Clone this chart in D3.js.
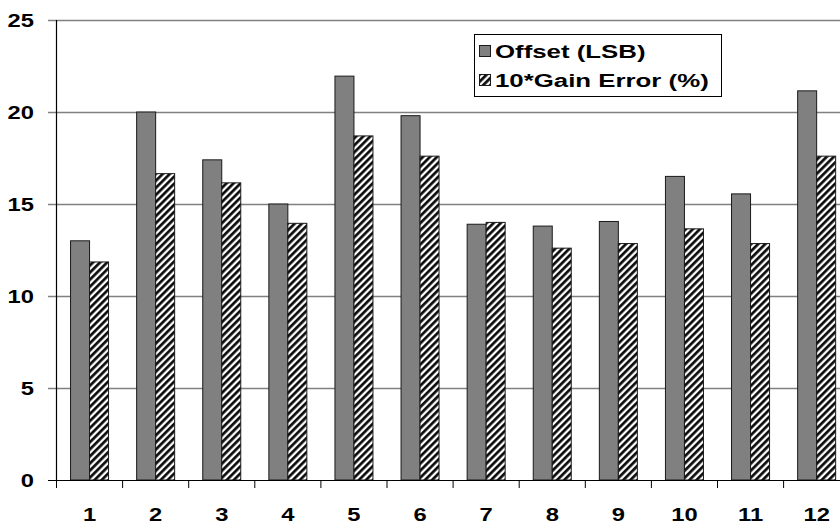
<!DOCTYPE html>
<html>
<head>
<meta charset="utf-8">
<script src="https://cdn.jsdelivr.net/npm/d3@7/dist/d3.min.js"></script>
<style>
  html, body { margin: 0; padding: 0; background: #fff; }
  svg { display: block; }
  text { font-family: Arial, "Liberation Sans", sans-serif; font-weight: bold; fill: #000; }
</style>
</head>
<body>
<svg id="chart" width="840" height="525"></svg>
<script>
const categories = ["1","2","3","4","5","6","7","8","9","10","11","12"];
const seriesNames = ["Offset (LSB)", "10*Gain Error (%)"];
const offsetLSB = [13.0, 20.0, 17.4, 15.0, 21.95, 19.8, 13.9, 13.8, 14.05, 16.5, 15.55, 21.15];
const gainError10 = [11.85, 16.65, 16.15, 13.95, 18.7, 17.6, 14.0, 12.6, 12.85, 13.65, 12.85, 17.6];
const yTicks = [0, 5, 10, 15, 20, 25];

(function () {
const svg = d3.select("#chart");
const W = 840;
const plotLeft = 56.5, plotTop = 20, plotBottom = 480, bandW = 66.1;
const plotRight = plotLeft + bandW * categories.length;

// hatch pattern
const defs = svg.append("defs");
const pat = defs.append("pattern")
  .attr("id", "hatch").attr("patternUnits", "userSpaceOnUse")
  .attr("width", 5).attr("height", 5)
  .attr("patternTransform", "rotate(45)");
pat.append("rect").attr("width", 5).attr("height", 5).attr("fill", "#fff");
pat.append("line").attr("x1", 1.4).attr("y1", -1).attr("x2", 1.4).attr("y2", 6)
  .attr("stroke", "#000").attr("stroke-width", 2.6);

const x0 = d3.scaleBand().domain(categories).range([plotLeft, plotRight]).paddingInner(0.425).paddingOuter(0.2125);
const x1 = d3.scaleBand().domain([0, 1]).range([0, x0.bandwidth()]);
const y = d3.scaleLinear().domain([0, 25]).range([plotBottom, plotTop]);

function sText(sel, sx) {
  sel.each(function() {
    const t = d3.select(this);
    const xx = +t.attr("x"), yy = +t.attr("y");
    t.attr("transform", `translate(${xx},${yy}) scale(${sx},1) translate(${-xx},${-yy})`);
  });
}

// gridlines
svg.append("g").selectAll("line").data(yTicks.filter(d => d > 0)).join("line")
  .attr("x1", 48).attr("x2", W)
  .attr("y1", d => Math.round(y(d)) + 0.5).attr("y2", d => Math.round(y(d)) + 0.5)
  .attr("stroke", "#808080").attr("stroke-width", 1.3);

// bars
const colors = ["#808080", "url(#hatch)"];
const groups = svg.append("g").selectAll("g").data(categories).join("g")
  .attr("transform", d => `translate(${x0(d)},0)`);
groups.selectAll("rect").data((d, i) => [offsetLSB[i], gainError10[i]]).join("rect")
  .attr("x", (d, j) => x1(j))
  .attr("width", x1.bandwidth())
  .attr("y", d => y(d))
  .attr("height", d => y(0) - y(d))
  .attr("fill", (d, j) => colors[j])
  .attr("stroke", "#1a1a1a").attr("stroke-width", 1);

// y axis line
svg.append("line").attr("x1", plotLeft).attr("x2", plotLeft).attr("y1", plotTop).attr("y2", plotBottom)
  .attr("stroke", "#000").attr("stroke-width", 1.2);
// x axis line
svg.append("line").attr("x1", 48).attr("x2", W).attr("y1", plotBottom + 0.5).attr("y2", plotBottom + 0.5)
  .attr("stroke", "#000").attr("stroke-width", 1.2);
// x ticks at band boundaries
svg.append("g").selectAll("line").data(d3.range(categories.length + 1)).join("line")
  .attr("x1", i => plotLeft + i * bandW).attr("x2", i => plotLeft + i * bandW)
  .attr("y1", plotBottom).attr("y2", plotBottom + 8)
  .attr("stroke", "#000").attr("stroke-width", 1);

// y labels
svg.append("g").selectAll("text").data(yTicks).join("text")
  .attr("x", 34).attr("y", d => y(d) + 7)
  .attr("text-anchor", "end").attr("font-size", 19)
  .text(d => d)
  .call(sText, 1.25);

// x labels
svg.append("g").selectAll("text").data(categories).join("text")
  .attr("x", d => x0(d) + x0.bandwidth() / 2).attr("y", 521)
  .attr("text-anchor", "middle").attr("font-size", 19)
  .text(d => d)
  .call(sText, 1.25);

// legend
const lg = svg.append("g");
lg.append("rect").attr("x", 474.5).attr("y", 34.5).attr("width", 247).attr("height", 62)
  .attr("fill", "#fff").attr("stroke", "#000").attr("stroke-width", 1);
const rows = lg.selectAll("g").data(seriesNames).join("g")
  .attr("transform", (d, i) => `translate(0,${i * 29})`);
rows.append("rect").attr("x", 479.5).attr("y", 45.5).attr("width", 11).attr("height", 11)
  .attr("fill", (d, i) => colors[i]).attr("stroke", "#1a1a1a").attr("stroke-width", 1);
rows.append("text").attr("x", 495).attr("y", 58)
  .attr("font-size", 19).text(d => d)
  .call(sText, 1.36);
})();
</script>
</body>
</html>
